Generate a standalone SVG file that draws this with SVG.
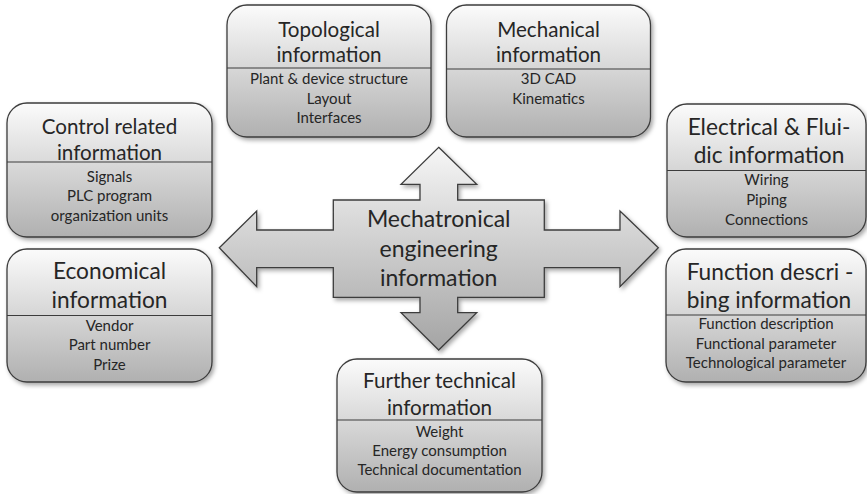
<svg xmlns="http://www.w3.org/2000/svg" width="867" height="494" viewBox="0 0 867 494">
  <defs>
    <linearGradient id="boxFill" x1="0" y1="0" x2="0" y2="1">
      <stop offset="0" stop-color="#fbfbfb"/>
      <stop offset="1" stop-color="#b0b0b0"/>
    </linearGradient>
    <linearGradient id="arrowFill" x1="0" y1="0" x2="0" y2="1">
      <stop offset="0" stop-color="#f6f6f6"/>
      <stop offset="1" stop-color="#a4a4a4"/>
    </linearGradient>
    <filter id="shadow" x="-10%" y="-10%" width="125%" height="130%">
      <feDropShadow dx="2" dy="2.5" stdDeviation="2" flood-color="#000" flood-opacity="0.35"/>
    </filter>
  </defs>
  <style>
    .box { fill: url(#boxFill); stroke: #3c3c3c; stroke-width: 1.3; filter: url(#shadow); }
    .div { stroke: #3c3c3c; stroke-width: 1.2; }
    text { font-family: Lato, "Liberation Sans", sans-serif; fill: #262626; text-anchor: middle; }
    .t { font-size: 20.6px; }
    .tb { font-size: 22.7px; }
    .s { font-size: 15px; }
    .c { font-size: 23px; }
  </style>

  <!-- central multi-direction arrow -->
  <g id="connectors">
    <path d="M438.7,147.3 L476.7,184.3 L457.7,184.3 L457.7,200 L544.3,200 L544.3,230 L620,230 L620,211 L658.3,247.7 L620,286.7 L620,267.7 L544.3,267.7 L544.3,297.3 L457.7,297.3 L457.7,312.7 L476.7,312.7 L438.7,350 L401,312.7 L420,312.7 L420,297.3 L333.3,297.3 L333.3,267.7 L256.7,267.7 L256.7,286.7 L219.3,247.7 L256.7,211 L256.7,230 L333.3,230 L333.3,200 L420,200 L420,184.3 L401,184.3 Z"
          fill="url(#arrowFill)" stroke="#3c3c3c" stroke-width="1.3" stroke-linejoin="miter" filter="url(#shadow)"/>
    <text class="c" x="438.7" y="227">Mechatronical</text>
    <text class="c" x="438.7" y="257">engineering</text>
    <text class="c" x="438.7" y="286">information</text>
  </g>

  <g id="topological">
    <rect class="box" x="227" y="5" width="204" height="132" rx="20"/>
    <line class="div" x1="227" y1="68" x2="431" y2="68"/>
    <text class="t" x="329" y="37">Topological</text>
    <text class="t" x="329" y="62">information</text>
    <text class="s" x="329" y="84">Plant &amp; device structure</text>
    <text class="s" x="329" y="103.5">Layout</text>
    <text class="s" x="329" y="123">Interfaces</text>
  </g>

  <g id="mechanical">
    <rect class="box" x="446.5" y="5" width="204" height="132" rx="20"/>
    <line class="div" x1="446.5" y1="69" x2="650.5" y2="69"/>
    <text class="t" x="548.5" y="37">Mechanical</text>
    <text class="t" x="548.5" y="62">information</text>
    <text class="s" x="548.5" y="84">3D CAD</text>
    <text class="s" x="548.5" y="103.5">Kinematics</text>
  </g>

  <g id="control">
    <rect class="box" x="7" y="103" width="205" height="134" rx="20"/>
    <line class="div" x1="7" y1="162" x2="212" y2="162"/>
    <text class="t" x="109.5" y="134">Control related</text>
    <text class="t" x="109.5" y="160">information</text>
    <text class="s" x="109.5" y="181.5">Signals</text>
    <text class="s" x="109.5" y="201">PLC program</text>
    <text class="s" x="109.5" y="220.5">organization units</text>
  </g>

  <g id="economical">
    <rect class="box" x="7" y="249" width="205" height="133" rx="20"/>
    <line class="div" x1="7" y1="315.5" x2="212" y2="315.5"/>
    <text class="tb" x="109.5" y="279">Economical</text>
    <text class="tb" x="109.5" y="308">information</text>
    <text class="s" x="109.5" y="330.5">Vendor</text>
    <text class="s" x="109.5" y="350">Part number</text>
    <text class="s" x="109.5" y="369.5">Prize</text>
  </g>

  <g id="electrical">
    <rect class="box" x="667" y="104" width="199" height="133" rx="20"/>
    <line class="div" x1="667" y1="170.5" x2="866" y2="170.5"/>
    <text class="tb" x="769" y="135">Electrical &amp; Flui-</text>
    <text class="tb" x="769" y="163">dic information</text>
    <text class="s" x="766.5" y="185">Wiring</text>
    <text class="s" x="766.5" y="204.5">Piping</text>
    <text class="s" x="766.5" y="224.5">Connections</text>
  </g>

  <g id="function">
    <rect class="box" x="666" y="249" width="200" height="133" rx="20"/>
    <line class="div" x1="666" y1="315" x2="866" y2="315"/>
    <text class="tb" x="770" y="280">Function descri -</text>
    <text class="tb" x="769" y="308">bing information</text>
    <text class="s" x="766" y="329">Function description</text>
    <text class="s" x="766" y="348.5">Functional parameter</text>
    <text class="s" x="766" y="368">Technological parameter</text>
  </g>

  <g id="further">
    <rect class="box" x="337" y="359" width="205" height="133" rx="20"/>
    <line class="div" x1="337" y1="420" x2="542" y2="420"/>
    <text class="t" x="439.5" y="388">Further technical</text>
    <text class="t" x="439.5" y="415">information</text>
    <text class="s" x="439.5" y="436.5">Weight</text>
    <text class="s" x="439.5" y="456">Energy consumption</text>
    <text class="s" x="439.5" y="475">Technical documentation</text>
  </g>
</svg>
